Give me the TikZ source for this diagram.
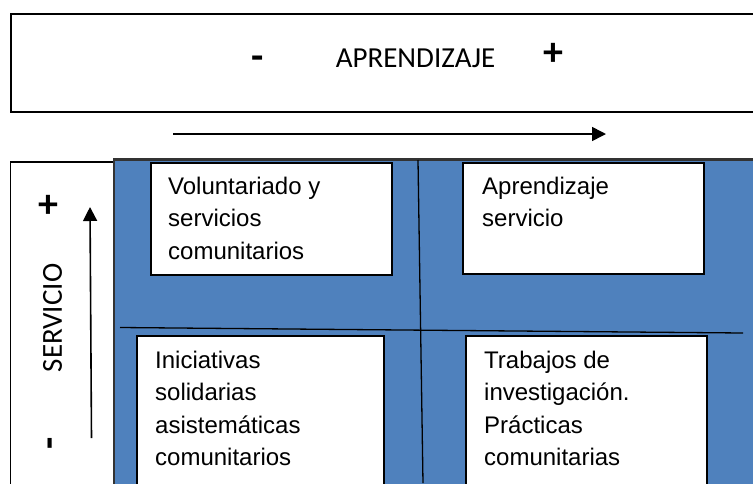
\documentclass[tikz,border=0pt]{standalone}
\usepackage{fontspec}
\setmainfont{Liberation Sans}
\newfontfamily\calfont{Carlito}
\usetikzlibrary{arrows.meta}
\definecolor{quadblue}{HTML}{4F81BD}
\definecolor{edgegray}{HTML}{333333}
\tikzset{
  frame/.style={draw=black, line width=1.6pt, fill=white, inner sep=0pt, anchor=north west},
  quadbox/.style={draw=black, line width=1.6pt, fill=white, inner sep=0pt, anchor=north west},
  txt/.style={font=\fontsize{24}{32.5}\selectfont, align=left, inner sep=0pt, anchor=north west},
  cal/.style={font=\calfont\fontsize{29}{29}\selectfont, inner sep=0pt},
  sign/.style={font=\calfont\bfseries\fontsize{40}{40}\selectfont, inner sep=0pt},
  divider/.style={draw=black, line width=1.3pt},
  axisarrow/.style={draw=black, line width=1.6pt, -{Triangle[length=14pt,width=14pt]}}
}
\begin{document}
\begin{tikzpicture}[x=1pt,y=-1pt]
\useasboundingbox (0,0) rectangle (753,483);
\clip (0,0) rectangle (753,483);
% top box
\node[frame, minimum width=760pt, minimum height=98pt] (topbox) at (10,13) {};
\node[sign] (minusA) at (258,62.5) {-};
\node[cal, anchor=base] (aprend) at (415.5,67) {APRENDIZAJE};
\node[sign] (plusA) at (553,54) {+};
% horizontal arrow
\coordinate (ha) at (173,134);
\coordinate (hb) at (606,134);
\draw[axisarrow] (ha) -- (hb);
% left panel
\node[frame, minimum width=104pt, minimum height=340pt] (leftpanel) at (9.5,161) {};
\node[cal, rotate=90] (servicio) at (52.5,318) {SERVICIO};
\node[sign] (plusS) at (48,206.5) {+};
\node[sign, rotate=90] (minusS) at (55,443) {-};
\coordinate (va) at (91.5,438);
\coordinate (vb) at (90,207);
\draw[axisarrow] (va) -- (vb);
% blue area
\fill[quadblue] (114,159) rectangle (760,490);
\draw[edgegray, line width=3pt] (113,159) -- (760,159);
\draw[edgegray, line width=2.5pt] (114,159) -- (114,490);
% dividers
\coordinate (vd1) at (418,160);
\coordinate (vd2) at (423,483);
\coordinate (hd1) at (120,327.5);
\coordinate (hd2) at (743,333);
\draw[divider] (vd1) -- (vd2);
\draw[divider] (hd1) -- (hd2);
% quadrant boxes
\node[quadbox, minimum width=241pt, minimum height=112pt] (tl) at (150,162) {};
\node[quadbox, minimum width=241pt, minimum height=111pt] (tr) at (462,162) {};
\node[quadbox, minimum width=247pt, minimum height=160pt] (bl) at (136,335) {};
\node[quadbox, minimum width=241pt, minimum height=160pt] (br) at (465,335) {};
% texts
\node[txt] (ttl) at (168,176.5) {Voluntariado y\\servicios\\comunitarios};
\node[txt] (ttr) at (482,176.5) {Aprendizaje\\servicio};
\node[txt] (tbl) at (155,350.5) {Iniciativas\\solidarias\\asistemáticas\\comunitarios};
\node[txt] (tbr) at (484,350.5) {Trabajos de\\investigación.\\Prácticas\\comunitarias};
\end{tikzpicture}
\end{document}
